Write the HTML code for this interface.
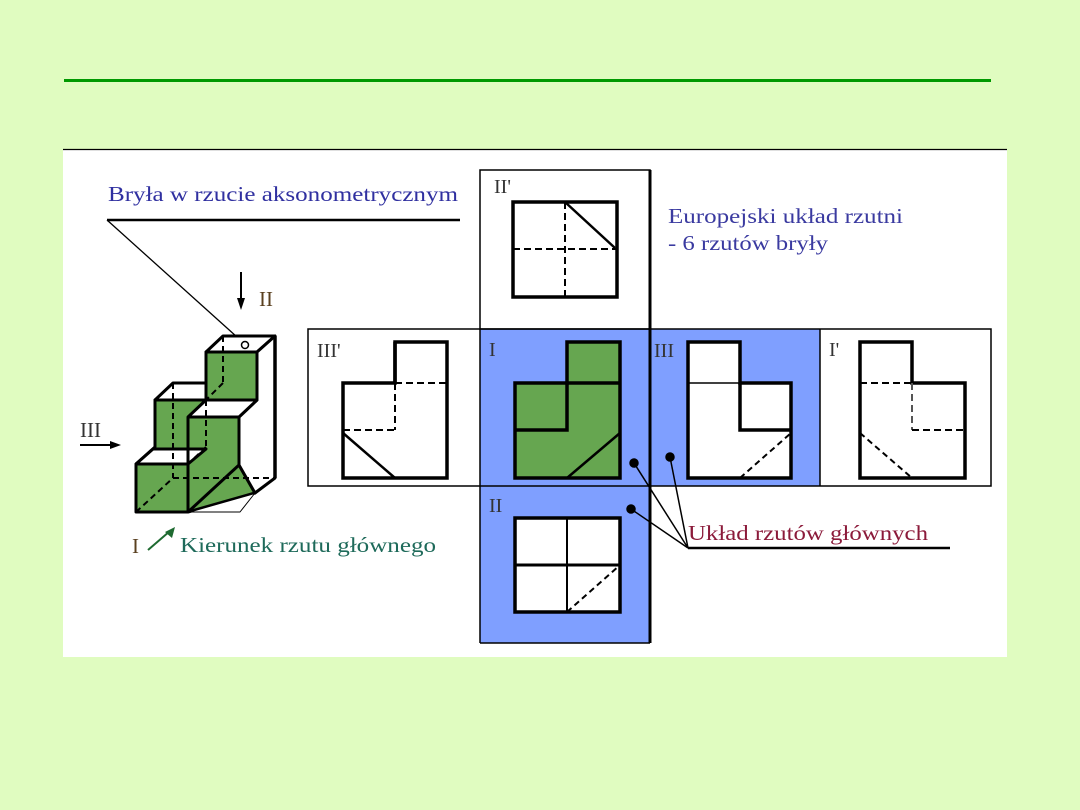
<!DOCTYPE html>
<html><head><meta charset="utf-8"><style>
html,body{margin:0;padding:0;background:#e0fcc0;}
svg{display:block}
text{font-family:"Liberation Serif",serif;}
</style></head><body>
<svg width="1080" height="810" viewBox="0 0 1080 810" xmlns="http://www.w3.org/2000/svg">
<rect width="1080" height="810" fill="#e0fcc0"/>
<rect x="64" y="79" width="927" height="3" fill="#009900"/>
<rect x="63" y="149" width="944" height="508" fill="#fff"/>
<line x1="63" y1="149.5" x2="1007" y2="149.5" stroke="#000" stroke-width="1.2"/>

<rect x="480" y="329" width="170" height="314" fill="#7f9fff"/>
<rect x="650" y="329" width="170" height="157" fill="#7f9fff"/>
<g fill="none" stroke="#000">
<rect x="480" y="170" width="170" height="159" stroke-width="1.5"/>
<rect x="308" y="329" width="683" height="157" stroke-width="1.5"/>
<line x1="480" y1="329" x2="480" y2="643" stroke-width="1.5"/>
<line x1="820" y1="329" x2="820" y2="486" stroke-width="1.5"/>
<line x1="480" y1="643" x2="650" y2="643" stroke-width="1.5"/>
<line x1="650" y1="170" x2="650" y2="643" stroke-width="3"/>
</g>

<rect x="513" y="202" width="104" height="95" fill="#fff" stroke="#000" stroke-width="3.5"/>
<line x1="565" y1="202" x2="565" y2="297" stroke="#000" stroke-width="2" stroke-dasharray="7,4"/>
<line x1="513" y1="249" x2="617" y2="249" stroke="#000" stroke-width="2" stroke-dasharray="7,4"/>
<line x1="565" y1="202" x2="615" y2="248" stroke="#000" stroke-width="2.5"/>

<g stroke="#000" fill="#fff">
<polygon points="395,342 447,342 447,478 343,478 343,383 395,383" stroke-width="3.5"/>
<line x1="395" y1="342" x2="395" y2="383" stroke-width="3.5"/>
<line x1="395" y1="383" x2="447" y2="383" stroke-width="2" stroke-dasharray="7,4"/>
<line x1="395" y1="383" x2="395" y2="430" stroke-width="2" stroke-dasharray="7,4"/>
<line x1="343" y1="430" x2="395" y2="430" stroke-width="2" stroke-dasharray="7,4"/>
<line x1="343" y1="433" x2="395" y2="478" stroke-width="2.5"/>
</g>

<g stroke="#000" fill="#66a650">
<polygon points="567,342 620,342 620,478 515,478 515,383 567,383" stroke-width="3.5"/>
<polyline points="567,383 620,383" fill="none" stroke-width="3.5"/>
<polyline points="567,383 567,430 515,430" fill="none" stroke-width="3.5"/>
<line x1="567" y1="478" x2="620" y2="433" stroke-width="2.5"/>
</g>

<g stroke="#000" fill="#fff">
<polygon points="688,342 740,342 740,383 791,383 791,478 688,478" stroke-width="3.5"/>
<polyline points="740,383 740,430 791,430" fill="none" stroke-width="3.5"/>
<line x1="688" y1="383" x2="740" y2="383" stroke-width="1.5"/>
<line x1="740" y1="478" x2="791" y2="433" stroke-width="2" stroke-dasharray="6,4"/>
</g>

<g stroke="#000" fill="#fff">
<polygon points="860,342 912,342 912,383 965,383 965,478 860,478" stroke-width="3.5"/>
<line x1="860" y1="383" x2="912" y2="383" stroke-width="2" stroke-dasharray="7,4"/>
<line x1="912" y1="383" x2="912" y2="430" stroke="#555" stroke-width="2" stroke-dasharray="7,4"/>
<line x1="912" y1="430" x2="965" y2="430" stroke-width="2" stroke-dasharray="7,4"/>
<line x1="860" y1="433" x2="912" y2="478" stroke-width="2" stroke-dasharray="6,4"/>
</g>

<g stroke="#000" fill="#fff">
<rect x="515" y="518" width="105" height="94" stroke-width="3.5"/>
<line x1="567" y1="518" x2="567" y2="612" stroke-width="2"/>
<line x1="515" y1="565" x2="620" y2="565" stroke-width="3"/>
<line x1="567" y1="612" x2="620" y2="565" stroke-width="2" stroke-dasharray="6,4"/>
</g>

<g stroke="#000" stroke-width="1.5">
<circle cx="634" cy="463" r="4" fill="#000"/>
<circle cx="670" cy="457" r="4" fill="#000"/>
<circle cx="631" cy="509" r="4" fill="#000"/>
<line x1="634" y1="463" x2="688" y2="548"/>
<line x1="670" y1="457" x2="688" y2="548"/>
<line x1="631" y1="509" x2="688" y2="548"/>
<line x1="688" y1="548" x2="950" y2="548" stroke-width="2.5"/>
</g>
<text x="688" y="540" font-size="21" fill="#8b1a3a" textLength="240" lengthAdjust="spacingAndGlyphs">Układ rzutów głównych</text>

<text x="494" y="193" font-size="20" fill="#333">II'</text>
<text x="317" y="357" font-size="20" fill="#333">III'</text>
<text x="489" y="356" font-size="20" fill="#333">I</text>
<text x="654" y="357" font-size="20" fill="#333">III</text>
<text x="829" y="356" font-size="20" fill="#333">I'</text>
<text x="489" y="512" font-size="20" fill="#333">II</text>

<text x="668" y="223" font-size="21" fill="#3a3aa0" textLength="235" lengthAdjust="spacingAndGlyphs">Europejski układ rzutni</text>
<text x="668" y="250" font-size="21" fill="#3a3aa0" textLength="160" lengthAdjust="spacingAndGlyphs">- 6 rzutów bryły</text>

<text x="108" y="201" font-size="21" fill="#3030a0" textLength="350" lengthAdjust="spacingAndGlyphs">Bryła w rzucie aksonometrycznym</text>
<line x1="107" y1="220" x2="460" y2="220" stroke="#000" stroke-width="2.5"/>
<line x1="107" y1="220" x2="237" y2="337" stroke="#000" stroke-width="1.3"/>
<line x1="241" y1="272" x2="241" y2="300" stroke="#000" stroke-width="2"/>
<polygon points="237,298 245,298 241,310" fill="#000"/>
<text x="259" y="306" font-size="21" fill="#5a4020">II</text>
<text x="80" y="437" font-size="21" fill="#333">III</text>
<line x1="80" y1="445" x2="112" y2="445" stroke="#000" stroke-width="2"/>
<polygon points="110,441 110,449 121,445" fill="#000"/>
<text x="132" y="553" font-size="21" fill="#5a4020">I</text>
<line x1="148" y1="550" x2="170" y2="531" stroke="#1e6a30" stroke-width="2"/>
<polygon points="165,532 172,538 175,527" fill="#1e6a30"/>
<text x="180" y="552" font-size="21" fill="#1e6a5a" textLength="256" lengthAdjust="spacingAndGlyphs">Kierunek rzutu głównego</text>

<g stroke="#000" stroke-linejoin="round">
<polygon points="206,352 257,352 257,400 239,417 239,465 255,493 188,512 136,512 136,464 155,447 155,400 206,400" fill="#66a650" stroke-width="3"/>
<polygon points="206,352 223,336 275,336 257,352" fill="#fff" stroke-width="3"/>
<polygon points="257,352 275,336 275,478 255,493 239,465 239,417 257,400" fill="#fff" stroke-width="3"/>
<polygon points="188,512 240,512 255,493" fill="#fff" stroke-width="1"/>
<polygon points="136,464 153,449 206,449 188,464" fill="#fff" stroke-width="3"/>
<polygon points="188,417 206,400 257,400 239,417" fill="#fff" stroke-width="3"/>
<polygon points="155,400 173,383 206,383 206,400" fill="#fff" stroke-width="3"/>
<line x1="188" y1="417" x2="188" y2="464" stroke-width="3"/>
<line x1="188" y1="464" x2="188" y2="512" stroke-width="3"/>
<line x1="188" y1="512" x2="239" y2="465" stroke-width="3"/>
<line x1="188" y1="512" x2="255" y2="493" stroke-width="2"/>
<line x1="239" y1="465" x2="255" y2="493" stroke-width="2"/>
<line x1="257" y1="352" x2="257" y2="400" stroke-width="3"/>
<line x1="275" y1="336" x2="275" y2="478" stroke-width="3.5"/>
<g stroke-width="2" stroke-dasharray="6,4" fill="none">
<line x1="223" y1="336" x2="223" y2="383"/>
<line x1="223" y1="383" x2="206" y2="400"/>
<line x1="173" y1="383" x2="173" y2="478"/>
<line x1="173" y1="478" x2="275" y2="478"/>
<line x1="136" y1="512" x2="173" y2="478"/>
<line x1="206" y1="400" x2="206" y2="447"/>
<line x1="206" y1="447" x2="188" y2="464"/>
</g>
<circle cx="245" cy="345" r="3.5" fill="#fff" stroke-width="1.5"/>
</g>
</svg>
</body></html>
